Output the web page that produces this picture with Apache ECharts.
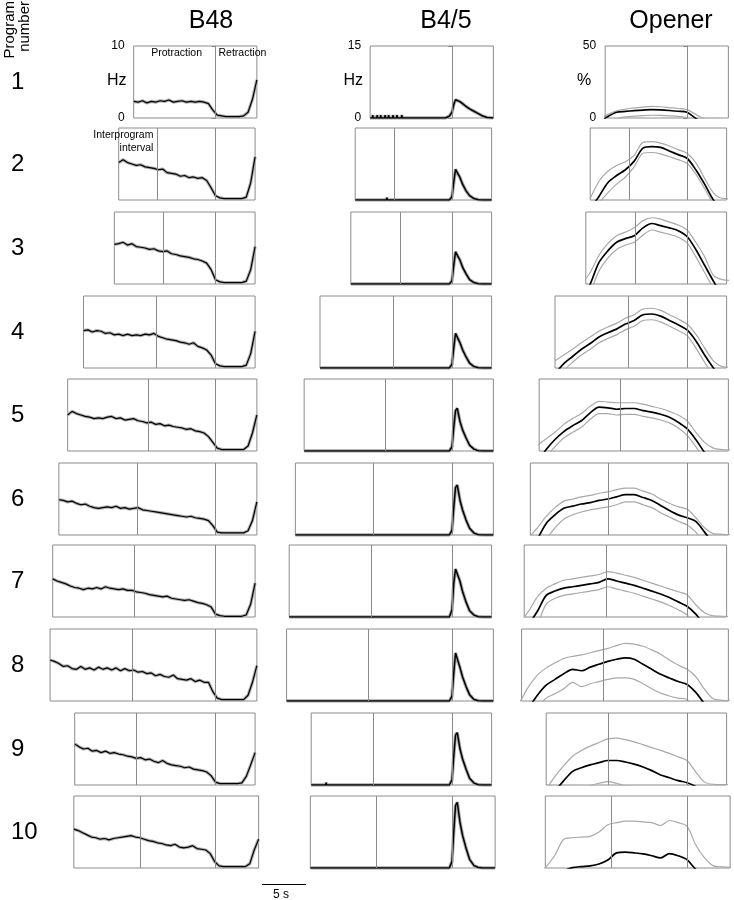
<!DOCTYPE html>
<html>
<head>
<meta charset="utf-8">
<title>Program number panels</title>
<script src="https://cdn.jsdelivr.net/npm/echarts@6/dist/echarts.min.js"></script>
<style>
  html, body { margin: 0; padding: 0; background: #fff; }
  #main { width: 734px; height: 900px; }
</style>
</head>
<body>
<div id="main"></div>
<script>
var columns = ['B48', 'B4/5', 'Opener'];
var yMax = [10, 15, 50];
var yUnit = ['Hz', 'Hz', '%'];
var programs = ['1', '2', '3', '4', '5', '6', '7', '8', '9', '10'];

// phase times in s, relative to retraction onset
var rowStart = [-9.3, -11.0, -11.5, -15.0, -16.8, -17.8, -18.5, -18.8, -16.0, -16.1];
var rowMid = [null, -6.6, -5.9, -6.7, -7.6, -8.9, -9.2, -9.5, -9.0, -8.6];
var rowEnd = [4.7, 4.5, 4.5, 4.5, 4.7, 4.7, 4.5, 4.7, 4.5, 4.9];
var scaleBarSec = 5;

// B48 firing rate (Hz), one value every 0.5 s from rowStart
var b48Step = 0.5;
var b48 = [
  [2.3,2.2,2.4,2.1,2.3,2.2,2.4,2.3,2.5,2.2,2.3,2.4,2.2,2.3,2.2,2.3,2.2,2.0,1.1,0.4,0.3,0.2,0.2,0.2,0.2,0.3,0.8,2.6,5.3],
  [5.2,5.6,5.2,5.0,4.8,4.9,4.6,4.5,4.4,4.2,4.3,3.8,3.7,3.6,3.3,3.4,3.1,3.2,3.0,3.1,2.7,1.7,0.6,0.3,0.2,0.2,0.2,0.2,0.2,0.4,2.4,6.0],
  [5.5,5.6,5.8,5.4,5.6,5.2,5.1,5.0,4.8,4.9,4.6,4.5,4.6,4.2,4.1,3.9,3.8,3.7,3.5,3.4,3.2,2.9,2.0,0.6,0.3,0.2,0.2,0.2,0.2,0.2,0.4,2.0,5.2],
  [5.2,5.3,5.0,5.2,5.1,4.8,4.9,4.6,4.7,4.5,4.7,4.5,4.6,4.5,4.7,4.6,4.8,4.4,4.2,4.0,3.9,3.8,3.6,3.5,3.3,3.5,3.0,2.8,2.5,1.8,0.6,0.3,0.2,0.2,0.2,0.2,0.2,0.4,2.0,5.1],
  [5.0,5.5,5.2,5.0,4.8,4.7,4.5,4.6,4.5,4.7,4.8,4.5,4.6,4.3,4.4,4.5,4.2,4.1,3.9,4.0,3.7,3.8,3.5,3.6,3.4,3.3,3.2,3.0,3.1,2.8,2.7,2.5,2.0,1.2,0.4,0.2,0.2,0.2,0.2,0.2,0.2,0.7,2.5,5.0],
  [4.9,4.8,4.6,4.7,4.4,4.2,4.3,4.0,3.8,3.7,3.8,3.9,3.8,4.0,3.7,3.8,3.6,3.7,3.8,3.5,3.4,3.3,3.2,3.1,3.0,2.9,2.8,2.7,2.6,2.5,2.6,2.4,2.3,2.2,2.0,1.3,0.4,0.3,0.3,0.3,0.3,0.3,0.3,0.6,2.0,4.6],
  [5.3,5.0,4.8,4.6,4.3,4.1,4.0,3.8,4.0,3.9,4.1,3.9,4.2,4.0,3.9,3.8,3.9,3.7,3.7,3.5,3.4,3.3,3.1,3.0,2.9,2.8,2.9,2.6,2.5,2.4,2.3,2.4,2.2,2.0,1.9,1.7,1.4,0.4,0.2,0.1,0.1,0.1,0.1,0.1,0.3,1.8,4.7],
  [5.7,5.5,5.2,4.8,4.9,4.5,4.4,4.8,4.4,4.6,4.3,4.7,4.4,4.6,4.3,4.6,4.2,4.5,4.2,4.3,4.0,4.1,3.8,3.9,3.5,3.7,3.4,3.3,3.6,3.1,3.0,2.9,3.1,2.7,2.9,2.6,2.6,1.3,0.4,0.2,0.2,0.2,0.2,0.2,0.2,0.8,2.6,4.9],
  [5.7,5.3,5.0,5.1,4.7,4.8,4.5,4.7,4.4,4.5,4.3,4.2,4.0,3.9,3.7,3.8,3.5,3.6,3.3,3.1,3.4,3.0,2.8,2.7,2.6,2.4,2.5,2.2,2.1,2.0,1.8,1.3,0.4,0.2,0.2,0.2,0.2,0.2,0.3,1.2,2.8,4.5],
  [5.4,5.2,4.9,4.6,4.3,4.2,4.0,4.1,3.9,4.1,4.2,4.3,4.4,4.5,4.3,4.2,4.0,3.8,3.7,3.5,3.4,3.2,3.1,3.3,2.9,2.8,2.9,3.1,2.7,2.6,2.5,2.0,0.9,0.3,0.2,0.2,0.2,0.2,0.2,0.2,0.6,2.5,4.0]
];

// B4/5 firing rate (Hz): burst after retraction onset, plus isolated small blips
var b45Times = [-0.3, 0.0, 0.2, 0.4, 0.6, 0.9, 1.2, 1.6, 2.0, 2.5, 3.0, 3.5, 4.0];
var b45Burst = [
  [0.4, 1.2, 2.8, 3.8, 3.7, 3.4, 3.0, 2.4, 1.9, 1.4, 0.9, 0.4, 0.1],
  [0, 0.7, 3.7, 6.4, 6.7, 4.7, 3.3, 1.9, 0.9, 0.3, 0.05, 0, 0],
  [0, 0.7, 3.9, 6.7, 7.1, 5.0, 3.5, 2.1, 0.9, 0.3, 0.05, 0, 0],
  [0, 0.8, 4.2, 7.2, 7.6, 5.3, 3.8, 2.3, 1.0, 0.3, 0.05, 0, 0],
  [0, 0.9, 4.9, 8.4, 8.9, 6.2, 4.4, 2.7, 1.2, 0.4, 0.05, 0, 0],
  [0, 1.0, 5.7, 9.9, 10.4, 7.3, 5.2, 3.1, 1.4, 0.4, 0.05, 0, 0],
  [0, 1.5, 7.0, 10.0, 10.2, 7.5, 5.3, 3.1, 1.3, 0.4, 0.05, 0, 0],
  [0, 1.0, 5.8, 10.0, 10.4, 7.0, 5.0, 3.0, 1.3, 0.3, 0.05, 0, 0],
  [0, 1.1, 6.0, 10.4, 10.9, 7.6, 5.4, 3.3, 1.4, 0.4, 0.05, 0, 0],
  [0, 1.4, 7.5, 13.0, 13.7, 9.6, 6.8, 4.1, 1.8, 0.5, 0.1, 0, 0]
];
var b45Blips = [
  [[-9.0, 0.6], [-8.5, 0.6], [-8.1, 0.6], [-7.6, 0.6], [-7.2, 0.6], [-6.7, 0.6], [-6.25, 0.6], [-5.7, 0.6], [-1.9, 0.2], [-1.2, 0.3], [-0.7, 0.3]],
  [[-9.2, 0.3], [-7.4, 0.5]],
  [[-10.4, 0.2], [-8.2, 0.2]],
  [],
  [[-12.4, 0.2]],
  [],
  [],
  [[-16.7, 0.3]],
  [[-14.3, 0.5]],
  []
];

// Opener activity (%), one value per second from the whole second at or before rowStart
var openerMean = [
  [-3, 1, 4, 4.6, 5.1, 5.5, 5.8, 5.6, 5.2, 4.7, 4.0, -0.3, -3, -4, -4, -4],
  [-6, 2.5, 12, 17, 21, 27, 36, 37, 36.5, 34, 31.5, 29, 21, 11, 0, -8, -14],
  [-12, 0, 15, 23, 29, 31.5, 33.5, 39, 42, 40.5, 39, 37, 33, 24, 13, 2, -8, -14],
  [-4, 3, 8, 13, 17, 21.5, 24.5, 27, 30.5, 33, 37, 37.5, 36, 33, 30, 26.5, 19, 9, 0, -8, -13],
  [-8, 1, 8, 13.5, 17.5, 21, 26.5, 30.5, 30, 29, 29.5, 29.5, 28, 27, 25.5, 23.5, 20, 15.5, 8, -1, -8, -13, -16],
  [-15, -3, 8, 14, 18.5, 20, 21.5, 22.5, 24, 25, 26.5, 28, 28, 26, 24, 20.5, 17, 14, 12, 9.5, 2, -6, -12, -16],
  [-12, -5, 4, 15, 18, 20, 21, 22, 23, 24, 26.5, 25, 23.5, 22, 20, 18, 16, 13.5, 10.5, 7.5, 2, -6, -12, -16, -18],
  [-15, -5, 4, 11, 15, 19, 22, 21, 23.5, 25.5, 27.5, 29, 30, 29, 25.5, 22, 18.5, 16, 13.5, 11.5, 6, -2, -8, -12, -15],
  [-10, -4, 3, 9.5, 12, 14, 15.5, 17, 17, 16, 14.5, 12.5, 10, 7, 5, 3, 1.6, -1, -6, -10, -13, -15],
  [-10, -8, -5, -2, 0.3, 1, 1.5, 2.8, 5.5, 10.5, 11, 10.5, 9.8, 8.5, 7, 10, 8.5, 5.8, -1, -6, -10, -12, -14]
];
var openerUpper = [
  [-1, 2.5, 5, 6.2, 7, 7.6, 8.1, 7.8, 7.2, 6.6, 5.8, 2.5, -0.5, -2, -2, -2],
  [1, 13, 20, 24, 26.5, 31, 40, 40.5, 39.5, 37.5, 35, 32.5, 26, 15, 5, 1.2, 1],
  [0, 8, 20, 28, 33.5, 36, 39, 44, 46, 45, 43, 41, 37.5, 29, 19, 6, 3, 2.5],
  [5, 9, 13, 17.5, 21.5, 25.5, 28.5, 31, 34.5, 37, 41, 41.5, 40, 37, 34, 30.5, 23.5, 14, 5, 1, 0.5],
  [4, 8.5, 13, 18.5, 22.5, 26, 31, 34.5, 34, 33.5, 33.5, 33.5, 32.5, 31, 29.5, 27.5, 25, 21, 13, 6, 2, 1, 0.5],
  [-2, 5, 13, 19, 23.5, 25, 26.5, 27.5, 29, 30, 31.5, 32.5, 32.5, 30.5, 28.5, 25, 22, 19.5, 18, 12, 5, 1, 0.5, 0.3],
  [-4, 4, 14, 20, 23, 25.5, 26.5, 27.5, 28.5, 29.5, 31.5, 30.5, 29, 27.5, 25.5, 23.5, 21.5, 19.5, 17.5, 15.5, 8.5, 3, 0.8, 0.5, 0.3],
  [-1, 10, 18, 23, 26.5, 29.5, 31, 32, 33.5, 35, 36.5, 38.5, 40, 39.5, 38, 35.5, 32.5, 28.5, 25, 22, 17, 8, 1.5, 0.5, 0.3],
  [-3, 6, 13.5, 20, 24, 27, 29.5, 32, 32.5, 31.5, 30, 28, 26, 24, 22, 19.5, 17, 9, 2, 0.5, 0.3, 0.3],
  [-3, 1, 9, 20, 21, 21.5, 22, 25, 30, 31.5, 32.5, 32.5, 32, 31.5, 29.5, 33, 31.5, 29, 16, 7, 1.5, 0.8, 0.5]
];
var openerLower = [
  [-6, -3, -0.5, 0.8, 1.3, 1.7, 1.9, 1.8, 1.5, 1.1, 0.3, -4, -6, -6, -6, -6],
  [-10, -2, 5, 11, 16, 23, 32.5, 33, 32, 30, 28, 25.5, 18, 8, -3, -12, -18],
  [-18, -6, 9, 18, 24, 27, 29, 34, 37.5, 36, 34.5, 32.5, 28.5, 19, 8, -3, -13, -20],
  [-12, -2, 4, 9, 13, 17.5, 20.5, 23, 26.5, 29, 33, 33.5, 32, 29, 26, 22.5, 14, 4, -5, -15, -20],
  [-14, -4, 3, 9, 13, 16.5, 22, 26, 26, 25, 25.5, 25.5, 24, 23, 21.5, 19.5, 16, 11, 3, -6, -13, -17, -20],
  [-25, -12, -3, 5, 11, 14, 16, 17.5, 18.5, 19.5, 21, 23, 23, 21, 19, 15.5, 12.5, 9.5, 7, 2, -6, -13, -20, -24],
  [-20, -14, -5, 9, 13, 15, 16, 17, 18, 19, 21, 19.5, 18, 16.5, 14.5, 12.5, 10.5, 8, 5, 1.5, -5, -14, -20, -24, -26],
  [-30, -17, -5, 2, 5, 8.5, 13, 10, 12, 13.5, 15, 16, 16, 15, 12, 8.5, 5.5, 3.5, 2, 1, -7, -15, -20, -24, -27],
  [-17, -14, -7.5, -1, -3, -0.5, 1.2, 2.4, 1.2, -0.5, -1, -3, -6, -10, -12, -13.5, -14, -11, -14, -20, -26, -30],
  [-13, -17, -22, -23, -20, -19.5, -19, -17.5, -17, -10, -10.5, -11.5, -12.5, -14.5, -15.5, -13, -14.5, -17.5, -18, -19, -21, -24, -28]
];

// layout
var pxPerSec = 8.8;
var onsetX = [215.5, 452, 687];
var rowTop = [46, 128, 212, 296, 379, 463, 545, 629, 713, 796];
var panelHeight = 72;
var font = '"Liberation Sans", Arial, sans-serif';
var boxColor = '#8c8c8c';

var chart = echarts.init(document.getElementById('main'));

var grids = [], xAxes = [], yAxes = [], series = [], graphics = [];

function lineSeries(gi, data, color, width, smooth, z) {
  return {
    type: 'line', xAxisIndex: gi, yAxisIndex: gi, data: data,
    showSymbol: false, symbol: 'none', silent: true, smooth: smooth || false,
    lineStyle: { color: color, width: width }, z: z || 3
  };
}

for (var r = 0; r < programs.length; r++) {
  for (var c = 0; c < columns.length; c++) {
    var gi = grids.length;
    var s = rowStart[r], e = rowEnd[r];
    var left = onsetX[c] + s * pxPerSec;
    var right = onsetX[c] + e * pxPerSec;
    grids.push({
      left: left, top: rowTop[r], width: right - left, height: panelHeight,
      show: true, borderColor: boxColor, borderWidth: 1, backgroundColor: 'rgba(0,0,0,0)'
    });
    xAxes.push({ type: 'value', gridIndex: gi, min: s, max: e, show: false });
    if (r === 0) {
      yAxes.push({
        type: 'value', gridIndex: gi, min: 0, max: yMax[c], interval: yMax[c],
        axisLine: { show: true, lineStyle: { color: boxColor } },
        axisTick: { show: true, length: 4, lineStyle: { color: boxColor } },
        axisLabel: { show: true, fontSize: 12, color: '#000', margin: 9, fontFamily: font },
        splitLine: { show: false }
      });
      graphics.push({
        type: 'text', x: left - (c === 2 ? 21 : 17), y: rowTop[r] + 35,
        style: { text: yUnit[c], font: '16px ' + font, fill: '#000', textAlign: 'center', verticalAlign: 'middle' }
      });
    } else {
      yAxes.push({ type: 'value', gridIndex: gi, min: 0, max: yMax[c], show: false });
    }

    var marks = [{ xAxis: 0 }];
    if (rowMid[r] !== null) marks.push({ xAxis: rowMid[r] });
    var markLine = {
      silent: true, symbol: ['none', 'none'], animation: false,
      label: { show: false },
      lineStyle: { color: '#8a8a8a', width: 1, type: 'solid' },
      data: marks
    };

    var first;
    if (c === 0) {
      var d = b48[r].map(function (v, i) { return [s + i * b48Step, v]; });
      first = lineSeries(gi, d, '#b0b0b0', 3.2, false, 2);
      series.push(first);
      series.push(lineSeries(gi, d, '#000', 1.2));
    } else if (c === 1) {
      var d2 = [[s, 0]];
      b45Blips[r].forEach(function (b) {
        d2.push([b[0] - 0.05, 0], [b[0], b[1]], [b[0] + 0.05, 0]);
      });
      b45Times.forEach(function (t, i) { d2.push([t, b45Burst[r][i]]); });
      d2.push([e, 0]);
      first = lineSeries(gi, d2, '#a8a8a8', 3.4, false, 2);
      series.push(first);
      series.push(lineSeries(gi, d2, '#000', 1.5));
    } else {
      var t0 = Math.floor(s + 1e-9);
      var toPts = function (arr) { return arr.map(function (v, i) { return [t0 + i, v]; }); };
      first = lineSeries(gi, toPts(openerUpper[r]), '#a8a8a8', 1.2, 0.3, 2);
      series.push(first);
      series.push(lineSeries(gi, toPts(openerLower[r]), '#a8a8a8', 1.2, 0.3, 2));
      series.push(lineSeries(gi, toPts(openerMean[r]), '#000', 1.7, 0.3));
    }
    first.markLine = markLine;
  }

  graphics.push({
    type: 'text', x: 11, y: rowTop[r] + 36,
    style: { text: programs[r], font: '24px ' + font, fill: '#000', textAlign: 'left', verticalAlign: 'middle' }
  });
}

// column titles
var titleX = [211, 446, 671];
columns.forEach(function (name, c) {
  graphics.push({
    type: 'text', x: titleX[c], y: 21,
    style: { text: name, font: '25px ' + font, fill: '#000', textAlign: 'center', verticalAlign: 'middle' }
  });
});

// "Program number" rotated header
graphics.push({
  type: 'text', x: 10, y: 1, rotation: Math.PI / 2,
  style: { text: 'Program', font: '15px ' + font, fill: '#000', textAlign: 'right', verticalAlign: 'middle' }
});
graphics.push({
  type: 'text', x: 25, y: 1, rotation: Math.PI / 2,
  style: { text: 'number', font: '15px ' + font, fill: '#000', textAlign: 'right', verticalAlign: 'middle' }
});

// phase labels
var b48Row1Left = onsetX[0] + rowStart[0] * pxPerSec;
graphics.push({
  type: 'text', x: (b48Row1Left + onsetX[0]) / 2 + 2, y: rowTop[0] + 7,
  style: { text: 'Protraction', font: '10.5px ' + font, fill: '#000', textAlign: 'center', verticalAlign: 'middle' }
});
graphics.push({
  type: 'text', x: onsetX[0] + 3, y: rowTop[0] + 7,
  style: { text: 'Retraction', font: '10.5px ' + font, fill: '#000', textAlign: 'left', verticalAlign: 'middle' }
});
var b48Row2Mid = onsetX[0] + rowMid[1] * pxPerSec;
graphics.push({
  type: 'text', x: b48Row2Mid - 4, y: rowTop[1] + 7,
  style: { text: 'Interprogram', font: '10.5px ' + font, fill: '#000', textAlign: 'right', verticalAlign: 'middle' }
});
graphics.push({
  type: 'text', x: b48Row2Mid - 4, y: rowTop[1] + 20,
  style: { text: 'interval', font: '10.5px ' + font, fill: '#000', textAlign: 'right', verticalAlign: 'middle' }
});

// 5 s scale bar
var barX = 262, barY = 884.5;
graphics.push({
  type: 'line', shape: { x1: barX, y1: barY, x2: barX + scaleBarSec * pxPerSec, y2: barY },
  style: { stroke: '#000', lineWidth: 1 }
});
graphics.push({
  type: 'text', x: barX + 19, y: barY + 10,
  style: { text: scaleBarSec + ' s', font: '12px ' + font, fill: '#000', textAlign: 'center', verticalAlign: 'middle' }
});

chart.setOption({
  animation: false,
  backgroundColor: '#fff',
  textStyle: { fontFamily: font },
  grid: grids,
  xAxis: xAxes,
  yAxis: yAxes,
  series: series,
  graphic: { elements: graphics }
});
</script>
</body>
</html>
